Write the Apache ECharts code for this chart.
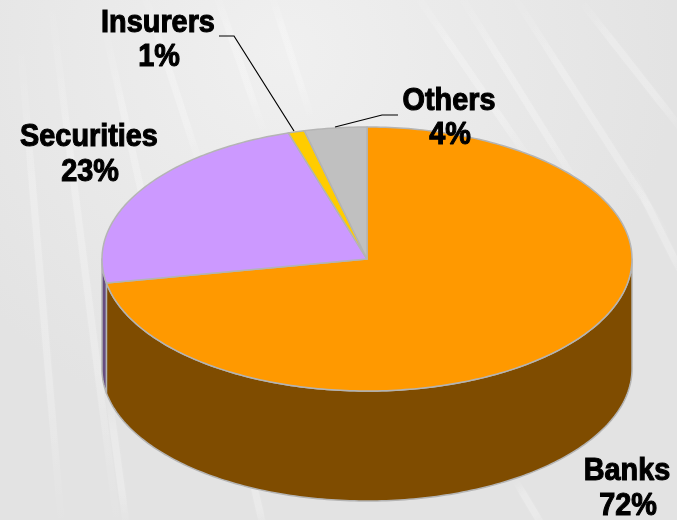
<!DOCTYPE html>
<html>
<head>
<meta charset="utf-8">
<style>
html, body { margin: 0; padding: 0; background: #e8e8e8; }
#pie { width: 677px; height: 520px; }
</style>
<script src="https://cdn.jsdelivr.net/npm/echarts@6/dist/echarts.min.js"></script>
</head>
<body>
<div id="pie"></div>
<script>
// chart data
var categories = ['Banks', 'Securities', 'Insurers', 'Others'];
var values = [72.1, 23.1, 1.0, 3.8];

// look of the slices
var topColors = ['#ff9900', '#cc99ff', '#ffcc00', '#c0c0c0'];
var sideColors = ['#7f4c00', '#664d80', '#7f6600', '#606060'];
var edgeColor = '#b4b4b4';

// ellipse of the top face + thickness of the disc
var cx = 367, cy = 259, rx = 265, ry = 132, depth = 110;

// where the labels sit (name line, value line)
var labelPos = {
  Banks: [627, 471, 628, 506],
  Securities: [89, 137, 90, 172],
  Insurers: [158, 23, 159, 57],
  Others: [449, 101, 450, 135]
};
// leader lines
var leaders = [
  [[219, 36], [234, 36], [294, 131]],
  [[398, 115], [382, 115], [335, 127]]
];
// light streaks of the background
var streaks = [
  [[20, 40], [62, 530]], [[50, -5], [118, 530]], [[103, 20], [170, 320]],
  [[143, -10], [205, 180]], [[215, -10], [265, 135]], [[270, -10], [312, 120]],
  [[413, -10], [540, 175]], [[457, -10], [590, 205]], [[510, -10], [670, 240]],
  [[580, 0], [690, 140]], [[630, 170], [690, 290]], [[108, 390], [127, 530]],
  [[248, 460], [264, 530]], [[515, 480], [545, 530]]
];

var total = values.reduce(function (a, b) { return a + b; }, 0);

function sliceAngles(i) {
  var before = 0;
  for (var k = 0; k < i; k++) before += values[k];
  return [before / total * 360, (before + values[i]) / total * 360];
}

function ell(deg, dy) {
  var t = deg * Math.PI / 180;
  return [cx + rx * Math.sin(t), cy - ry * Math.cos(t) + (dy || 0)];
}

function arcPoints(a0, a1, dy) {
  var pts = [];
  var n = Math.max(2, Math.ceil(Math.abs(a1 - a0)));
  for (var j = 0; j <= n; j++) pts.push(ell(a0 + (a1 - a0) * j / n, dy));
  return pts;
}

function renderTop(params) {
  var a = sliceAngles(params.dataIndex);
  var pts = [[cx, cy]].concat(arcPoints(a[0], a[1], 0));
  return {
    type: 'polygon',
    shape: { points: pts },
    style: { fill: topColors[params.dataIndex], stroke: edgeColor, lineWidth: 1.5, lineJoin: 'round' }
  };
}

function renderSide(params) {
  // only the front half of the wall can be seen
  var a = sliceAngles(params.dataIndex);
  var from = Math.max(a[0], 90), to = Math.min(a[1], 270);
  if (to <= from) return null;
  var pts = arcPoints(from, to, 0).concat(arcPoints(to, from, depth));
  return {
    type: 'polygon',
    shape: { points: pts },
    style: { fill: sideColors[params.dataIndex], stroke: edgeColor, lineWidth: 1.5, lineJoin: 'round' }
  };
}

function labelText(x, y, text) {
  return {
    type: 'text',
    x: x,
    y: y,
    scaleX: 0.93,
    style: {
      text: text,
      align: 'center',
      verticalAlign: 'middle',
      font: 'bold 31px "Liberation Sans"',
      fill: '#000',
      stroke: '#000',
      lineWidth: 1.1
    }
  };
}

function renderLabel(params) {
  var name = categories[params.dataIndex];
  var p = labelPos[name];
  return {
    type: 'group',
    children: [
      labelText(p[0], p[1], name),
      labelText(p[2], p[3], Math.round(values[params.dataIndex]) + '%')
    ]
  };
}

var graphicEls = streaks.map(function (s) {
  return {
    type: 'line',
    silent: true,
    shape: { x1: s[0][0], y1: s[0][1], x2: s[1][0], y2: s[1][1] },
    style: {
      // fades out at both ends
      stroke: {
        type: 'linear', global: true, x: s[0][0], y: s[0][1], x2: s[1][0], y2: s[1][1],
        colorStops: [
          { offset: 0, color: 'rgba(255,255,255,0)' },
          { offset: 0.3, color: 'rgba(255,255,255,0.22)' },
          { offset: 0.7, color: 'rgba(255,255,255,0.22)' },
          { offset: 1, color: 'rgba(255,255,255,0)' }
        ]
      },
      lineWidth: 7,
      shadowBlur: 6,
      shadowColor: 'rgba(255,255,255,0.25)'
    },
    z: -1
  };
});
leaders.forEach(function (l) {
  graphicEls.push({
    type: 'polyline',
    silent: true,
    shape: { points: l },
    style: { stroke: '#000', lineWidth: 1.2, fill: null },
    z: 10
  });
});

var myChart = echarts.init(document.getElementById('pie'));
myChart.setOption({
  animation: false,
  backgroundColor: {
    type: 'radial', x: 0.42, y: 0.1, r: 0.75,
    colorStops: [
      { offset: 0, color: '#f0f0f0' },
      { offset: 1, color: '#e3e3e3' }
    ]
  },
  graphic: { elements: graphicEls },
  series: [
    { type: 'custom', coordinateSystem: 'none', renderItem: renderSide, data: values, z: 2, silent: true, clip: false },
    { type: 'custom', coordinateSystem: 'none', renderItem: renderTop, data: values, z: 3, silent: true, clip: false },
    { type: 'custom', coordinateSystem: 'none', renderItem: renderLabel, data: values, z: 20, silent: true, clip: false }
  ]
});
</script>
</body>
</html>
